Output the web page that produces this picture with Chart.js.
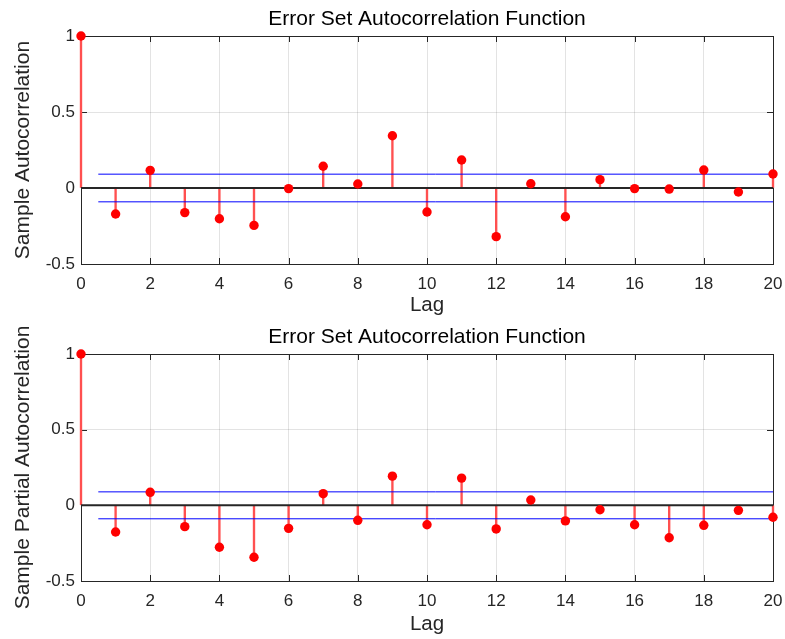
<!DOCTYPE html>
<html>
<head>
<meta charset="utf-8">
<script src="https://cdn.jsdelivr.net/npm/chart.js@4.4.1/dist/chart.umd.min.js"></script>
<style>
  html, body { margin: 0; padding: 0; background: #fff; }
  #wrap { position: relative; width: 785px; height: 639px; }
  .c { position: absolute; left: 0; }
</style>
</head>
<body>
<div id="wrap">
  <div class="c" style="top:0;width:785px;height:318px;"><canvas id="acf"></canvas></div>
  <div class="c" style="top:318px;width:785px;height:321px;"><canvas id="pacf"></canvas></div>
</div>
<script>
// ---- data ----
const lags = [0,1,2,3,4,5,6,7,8,9,10,11,12,13,14,15,16,17,18,19,20];
const acfValues = [1, -0.171, 0.116, -0.162, -0.202, -0.246, -0.004, 0.143, 0.026, 0.344, -0.158,
                   0.184, -0.320, 0.028, -0.189, 0.055, -0.004, -0.007, 0.118, -0.026, 0.092];
const pacfValues = [1, -0.176, 0.086, -0.141, -0.277, -0.343, -0.152, 0.077, -0.099, 0.193, -0.128,
                    0.180, -0.156, 0.035, -0.103, -0.029, -0.128, -0.214, -0.132, -0.033, -0.079];
const acfBound = 0.091;
const pacfBound = 0.089;
const boundStart = 0.5;
const xTickValues = [0,2,4,6,8,10,12,14,16,18,20];
const yTickValues = [-0.5, 0, 0.5, 1];
const chartTitle = 'Error Set Autocorrelation Function';
const xLabel = 'Lag';
const acfYLabel = 'Sample Autocorrelation';
const pacfYLabel = 'Sample Partial Autocorrelation';

const FONT = "'Liberation Sans', Arial, Helvetica, sans-serif";
const AXC = '#262626';

const boxPlugin = {
  id: 'boxTicks',
  beforeDatasetsDraw(chart) {
    const {ctx, chartArea: a, scales: {x, y}} = chart;
    ctx.save();
    ctx.strokeStyle = AXC;
    ctx.lineWidth = 1;
    ctx.strokeRect(Math.round(a.left) + 0.5, Math.round(a.top) + 0.5,
                   Math.round(a.right - a.left), Math.round(a.bottom - a.top));
    const tl = 6;
    ctx.beginPath();
    xTickValues.forEach(v => {
      const px = Math.round(x.getPixelForValue(v)) + 0.5;
      ctx.moveTo(px, a.bottom); ctx.lineTo(px, a.bottom - tl);
      ctx.moveTo(px, a.top); ctx.lineTo(px, a.top + tl);
    });
    yTickValues.forEach(v => {
      const py = Math.round(y.getPixelForValue(v)) + 0.5;
      ctx.moveTo(a.left, py); ctx.lineTo(a.left + tl, py);
      ctx.moveTo(a.right, py); ctx.lineTo(a.right - tl, py);
    });
    ctx.stroke();
    ctx.restore();
  }
};

function makeChart(id, values, bound, yLabel, xHeight, lagPadBottom) {
  const stems = lags.map((l, i) => ({x: l, y: [0, values[i]]}));
  const pts = lags.map((l, i) => ({x: l, y: values[i]}));
  const zero = [{x: lags[0], y: 0}, {x: lags[lags.length - 1], y: 0}];
  const up = [{x: boundStart, y: bound}, {x: lags[lags.length - 1], y: bound}];
  const lo = [{x: boundStart, y: -bound}, {x: lags[lags.length - 1], y: -bound}];

  return new Chart(document.getElementById(id), {
    type: 'line',
    data: {
      datasets: [
        {data: pts, showLine: false, pointRadius: 4.7, pointBackgroundColor: '#ff0000',
         pointBorderWidth: 0, borderColor: '#ff0000', clip: false, order: 1},
        {data: up, borderColor: '#0000ff', borderWidth: 1, pointRadius: 0, order: 2},
        {data: lo, borderColor: '#0000ff', borderWidth: 1, pointRadius: 0, order: 2},
        {data: zero, borderColor: '#262626', borderWidth: 2, pointRadius: 0, order: 3},
        {type: 'bar', data: stems, backgroundColor: '#ff5050', borderWidth: 0,
         barThickness: 1.7, grouped: false, clip: false, order: 4}
      ]
    },
    options: {
      responsive: true,
      maintainAspectRatio: false,
      animation: false,
      devicePixelRatio: 1,
      layout: {padding: {left: 0, right: 12, top: 0, bottom: 0}},
      plugins: {
        legend: {display: false},
        tooltip: {enabled: false},
        title: {
          display: true, text: chartTitle, fullSize: false, color: '#000',
          font: {family: FONT, size: 21, weight: 'normal', lineHeight: 1.2},
          padding: {top: 7, bottom: 3.8}
        }
      },
      scales: {
        x: {
          type: 'linear', min: 0, max: 20, offset: false,
          afterFit(s) { s.height = xHeight; s.paddingLeft = 0; s.paddingRight = 0; },
          afterBuildTicks(s) { s.ticks = xTickValues.map(v => ({value: v})); },
          ticks: {color: AXC, font: {family: FONT, size: 17}, padding: 10, maxRotation: 0, autoSkip: false,
                  callback: v => String(v)},
          grid: {color: 'rgba(38,38,38,0.13)', drawTicks: false, offset: false},
          border: {display: false},
          title: {display: true, text: xLabel, color: AXC, font: {family: FONT, size: 20.5, lineHeight: 1.2},
                  padding: {top: 0, bottom: lagPadBottom}}
        },
        y: {
          type: 'linear', min: -0.5, max: 1,
          afterFit(s) { s.width = 81; },
          afterBuildTicks(s) { s.ticks = yTickValues.map(v => ({value: v})); },
          ticks: {color: AXC, font: {family: FONT, size: 17}, padding: 6, callback: v => String(v)},
          grid: {color: 'rgba(38,38,38,0.13)', drawTicks: false},
          border: {display: false},
          title: {display: true, text: yLabel, color: AXC, font: {family: FONT, size: 21, lineHeight: 1.2},
                  padding: {top: 11, bottom: 0}}
        }
      }
    },
    plugins: [boxPlugin]
  });
}

makeChart('acf', acfValues, acfBound, acfYLabel, 54, 0);
makeChart('pacf', pacfValues, pacfBound, pacfYLabel, 58, 2);
</script>
</body>
</html>
